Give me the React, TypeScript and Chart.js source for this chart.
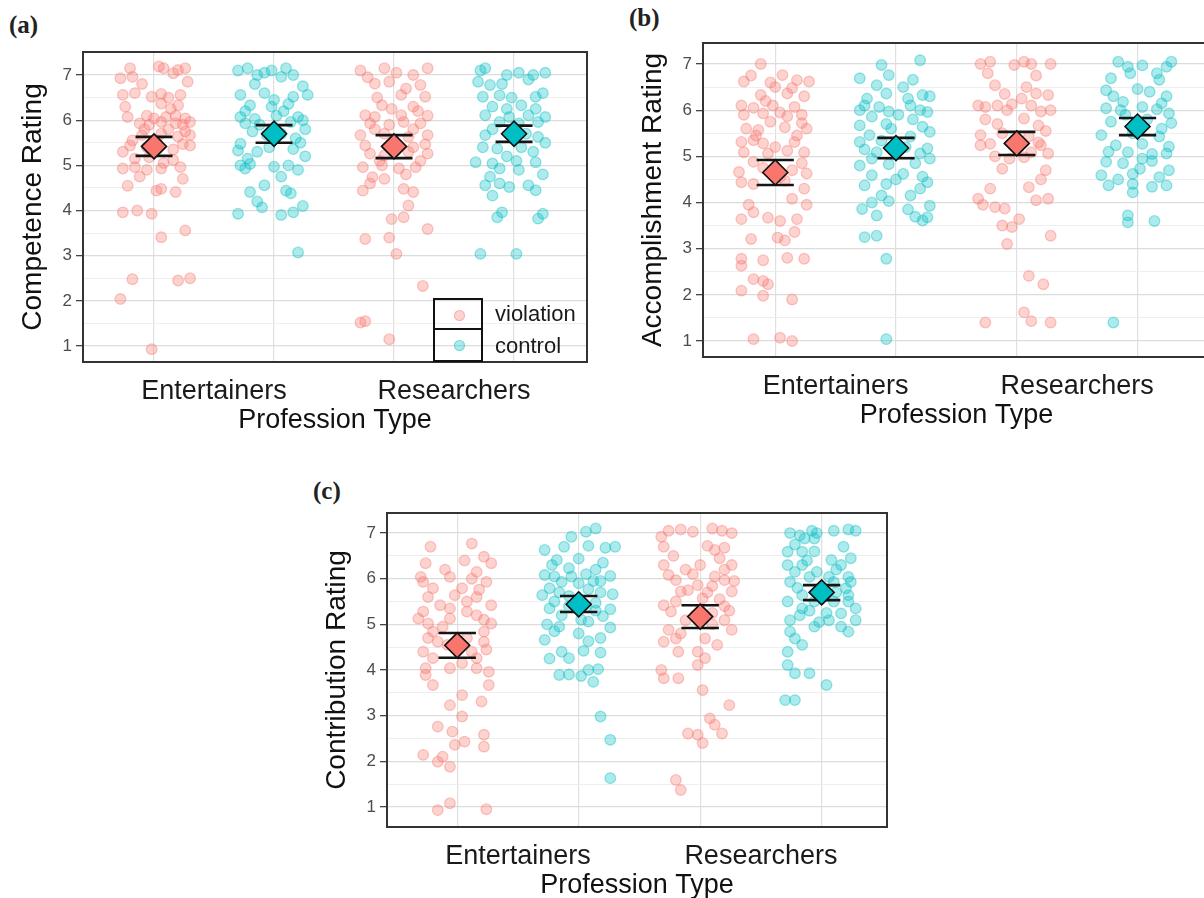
import React, { useEffect, useRef } from 'react';
import { Chart, registerables } from 'chart.js';

Chart.register(...registerables);
Chart.defaults.font.family = '"Liberation Sans", Arial, Helvetica, sans-serif';

// ---------- categories / legend ----------
const categories = ['Entertainers', 'Researchers'];
const conditions = ['violation', 'control'];
const conditionColors = ['#F8766D', '#00BFC4'];
const conditionPointFill = ['rgba(248,118,109,0.32)', 'rgba(0,191,196,0.32)'];
const conditionPointLine = ['rgba(248,118,109,0.40)', 'rgba(0,191,196,0.40)'];
const dodgeOffsets = [-0.25, 0.25];
const yTickValues = [1, 1.5, 2, 2.5, 3, 3.5, 4, 4.5, 5, 5.5, 6, 6.5, 7];
const xGridValues = [0.75, 1, 1.25, 1.75, 2, 2.25];
const capHalfWidth = 0.077;

// ---------- (a) Competence: [jitter, rating] ----------
const competenceEntViolation = [
  [-0.14, 6.93], [-0.10, 7.15], [-0.09, 6.96], [0.02, 7.19], [0.04, 7.15], [0.08, 7.04], [0.10, 7.11], [0.13, 7.15],
  [-0.13, 6.56], [-0.08, 6.6], [-0.01, 6.52], [0.03, 6.58], [0.06, 6.5], [0.11, 6.56],
  [0.03, 6.37], [0.10, 6.33],
  [-0.11, 6.07], [-0.03, 6.1], [0.0, 6.04], [0.05, 6.07], [0.09, 6.1], [0.13, 6.04],
  [-0.06, 5.93], [-0.02, 5.9], [0.03, 5.96], [0.09, 5.93], [0.12, 5.9], [0.15, 5.96],
  [-0.05, 5.67], [0.03, 5.7], [0.10, 5.64], [0.15, 5.67],
  [-0.10, 5.44], [-0.03, 5.4], [0.12, 5.47], [0.15, 5.44],
  [-0.08, 5.15], [-0.02, 5.18], [0.08, 5.12],
  [-0.13, 4.93], [-0.08, 4.96], [-0.03, 4.9], [0.03, 4.93], [0.11, 4.96],
  [0.01, 4.44], [0.03, 4.48], [0.09, 4.41],
  [-0.13, 3.96], [-0.07, 4.0], [-0.01, 3.93],
  [0.13, 3.56], [0.03, 3.41],
  [-0.09, 2.48], [0.10, 2.45], [0.15, 2.5],
  [-0.14, 2.04], [-0.01, 0.93],
  [-0.12, 6.3], [0.07, 6.25], [-0.04, 5.8], [0.06, 5.8], [0.13, 5.75], [-0.09, 5.55], [0.01, 5.55],
  [0.08, 5.35], [-0.13, 5.3], [0.04, 5.05], [-0.06, 4.75], [0.12, 4.7], [-0.11, 4.55], [0.14, 6.85], [-0.05, 6.8],
];
const competenceEntControl = [
  [-0.15, 7.1], [-0.11, 7.15], [-0.07, 7.0], [-0.01, 7.1], [0.03, 6.96], [0.08, 7.0], [0.05, 7.15], [-0.04, 7.05],
  [-0.14, 6.56], [-0.04, 6.6], [0.08, 6.52], [0.14, 6.56],
  [-0.10, 6.33], [-0.01, 6.3], [0.06, 6.36],
  [-0.14, 6.07], [-0.08, 6.03], [0.01, 6.1], [0.10, 6.07], [0.12, 6.0],
  [-0.12, 5.93], [-0.06, 5.9], [0.07, 5.96],
  [-0.03, 5.67], [0.03, 5.7],
  [-0.14, 5.48], [0.11, 5.5],
  [-0.15, 5.33], [-0.07, 5.3], [0.08, 5.36],
  [-0.14, 5.0], [-0.10, 5.03], [0.0, 4.97], [0.06, 5.0],
  [-0.12, 4.93], [0.10, 4.9],
  [-0.04, 4.56],
  [-0.10, 4.41], [0.05, 4.44], [0.07, 4.38],
  [-0.05, 4.07],
  [-0.15, 3.93], [0.03, 3.9], [0.08, 3.96],
  [0.10, 3.07],
  [-0.08, 6.8], [0.12, 6.75], [0.0, 6.45], [-0.12, 6.2], [0.04, 6.2], [0.13, 5.8], [-0.09, 5.75],
  [0.09, 5.6], [-0.02, 5.4], [0.13, 5.2], [-0.11, 5.15], [0.03, 4.75], [-0.07, 4.2], [0.12, 4.1],
];
const competenceResViolation = [
  [-0.14, 7.1], [-0.04, 7.15], [0.01, 7.05], [0.08, 7.0], [0.14, 7.15],
  [-0.08, 6.81], [-0.02, 6.85], [0.11, 6.78],
  [0.03, 6.56], [0.13, 6.52],
  [-0.05, 6.33], [0.08, 6.3],
  [-0.12, 6.11], [-0.08, 6.07], [0.03, 6.11], [0.14, 6.1],
  [-0.10, 5.93], [-0.02, 5.9], [0.04, 5.96], [0.11, 5.93],
  [-0.14, 5.67], [-0.04, 5.7], [0.06, 5.63], [0.14, 5.67],
  [-0.12, 5.44], [0.08, 5.4], [0.13, 5.47],
  [-0.10, 5.26], [-0.04, 5.22], [0.06, 5.3], [0.14, 5.26],
  [-0.13, 4.96], [-0.05, 5.0], [0.02, 4.93], [0.09, 4.96],
  [-0.09, 4.74], [-0.04, 4.7],
  [-0.13, 4.44], [0.04, 4.48], [0.08, 4.41],
  [0.06, 4.11],
  [-0.01, 3.81], [0.04, 3.85],
  [0.14, 3.59],
  [-0.12, 3.37], [-0.02, 3.4],
  [0.01, 3.04],
  [0.12, 2.33],
  [-0.14, 1.52], [-0.12, 1.55],
  [-0.02, 1.15],
  [-0.11, 6.95], [0.05, 6.7], [-0.07, 6.5], [0.10, 6.2], [-0.01, 6.25], [0.08, 5.8],
  [-0.08, 5.8], [0.0, 5.5], [-0.06, 5.1], [0.11, 5.1], [0.05, 4.8], [-0.10, 4.6],
];
const competenceResControl = [
  [-0.14, 7.1], [-0.12, 7.15], [-0.03, 7.0], [0.02, 7.05], [0.08, 7.0], [0.13, 7.05],
  [-0.10, 6.78], [-0.05, 6.8],
  [-0.13, 6.52], [-0.06, 6.55], [-0.01, 6.5], [0.09, 6.52],
  [-0.09, 6.3], [0.03, 6.33],
  [-0.12, 6.11], [-0.02, 6.07], [0.06, 6.11], [0.13, 6.07],
  [-0.06, 5.96], [0.02, 5.93], [0.10, 5.96],
  [-0.12, 5.67], [0.05, 5.7], [0.10, 5.63],
  [-0.07, 5.37], [0.03, 5.4],
  [-0.16, 5.07], [-0.09, 5.04], [0.01, 5.1], [0.09, 5.07],
  [-0.06, 4.93], [0.02, 4.9],
  [-0.12, 4.56], [-0.06, 4.6], [-0.02, 4.52], [0.06, 4.56],
  [-0.09, 4.33],
  [-0.05, 3.96], [0.12, 3.93],
  [-0.07, 3.85], [0.10, 3.82],
  [-0.14, 3.04], [0.01, 3.04],
  [0.06, 6.9], [-0.15, 6.85], [0.12, 6.6], [-0.03, 6.25], [0.09, 6.25], [-0.09, 5.8], [0.0, 5.8],
  [0.13, 5.5], [-0.13, 5.4], [0.08, 5.3], [-0.03, 5.2], [0.12, 4.8], [-0.10, 4.75], [0.09, 4.45],
];
const competenceMeans = [5.42, 5.7, 5.42, 5.7];
const competenceLower = [5.21, 5.5, 5.16, 5.52];
const competenceUpper = [5.63, 5.89, 5.67, 5.88];

// ---------- (b) Accomplishment ----------
const accomplishmentEntViolation = [
  [-0.06, 7.0], [0.03, 6.76],
  [-0.13, 6.62], [-0.02, 6.6], [0.09, 6.65], [0.14, 6.62],
  [0.0, 6.5], [0.07, 6.48],
  [-0.06, 6.33], [0.05, 6.36],
  [-0.14, 6.1], [-0.09, 6.05], [-0.01, 6.1], [0.08, 6.07],
  [-0.13, 5.9], [-0.05, 5.93], [0.05, 5.87], [0.11, 5.9],
  [-0.02, 5.75], [0.11, 5.72],
  [-0.12, 5.6], [-0.07, 5.57], [0.04, 5.63], [0.13, 5.6],
  [-0.14, 5.31], [-0.09, 5.35], [-0.05, 5.28], [0.08, 5.31],
  [-0.13, 5.09], [-0.03, 5.06], [0.05, 5.12], [0.12, 5.09],
  [-0.09, 4.88], [0.11, 4.85],
  [-0.15, 4.66], [0.07, 4.7], [0.13, 4.63],
  [-0.14, 4.44], [-0.09, 4.4], [0.04, 4.47],
  [0.07, 4.08],
  [-0.09, 3.79],
  [-0.14, 3.64], [-0.03, 3.67], [0.02, 3.6], [0.09, 3.64],
  [0.08, 3.36],
  [-0.10, 3.21], [0.01, 3.24], [0.04, 3.18],
  [-0.14, 2.78], [-0.05, 2.75], [0.05, 2.8], [0.12, 2.78],
  [-0.14, 2.63],
  [-0.09, 2.34], [-0.05, 2.3],
  [-0.03, 2.23],
  [-0.14, 2.09],
  [-0.05, 1.98],
  [0.07, 1.9],
  [-0.09, 1.04], [0.02, 1.07], [0.07, 1.0],
  [-0.10, 6.75], [0.12, 6.3], [-0.04, 6.2], [0.02, 5.95], [-0.08, 5.45], [0.09, 5.45],
  [0.0, 5.2], [-0.05, 4.75], [0.02, 4.55], [0.12, 4.3], [-0.11, 3.95], [0.13, 3.95],
];
const accomplishmentEntControl = [
  [0.10, 7.08], [-0.06, 6.98], [-0.03, 6.76],
  [-0.15, 6.69], [0.07, 6.66],
  [-0.08, 6.54], [0.03, 6.5],
  [-0.04, 6.36], [0.11, 6.33],
  [-0.13, 6.1], [-0.07, 6.07], [0.06, 6.1],
  [-0.15, 6.0], [-0.03, 5.97], [0.10, 6.0],
  [-0.10, 5.86], [0.01, 5.9],
  [-0.15, 5.67], [-0.04, 5.7], [0.11, 5.64],
  [-0.11, 5.46], [0.06, 5.43],
  [-0.15, 5.31], [-0.06, 5.34],
  [-0.08, 5.09], [0.10, 5.06],
  [-0.15, 4.8], [-0.03, 4.83],
  [-0.10, 4.59], [0.03, 4.62], [0.11, 4.56],
  [-0.13, 4.37], [-0.04, 4.4],
  [0.06, 4.15],
  [-0.10, 4.0], [-0.03, 4.03],
  [-0.14, 3.86],
  [-0.08, 3.72], [0.08, 3.69],
  [0.11, 3.61],
  [-0.13, 3.25], [-0.08, 3.28],
  [-0.04, 2.78],
  [-0.04, 1.04],
  [0.14, 6.3], [0.13, 5.96], [0.14, 5.53], [0.13, 5.17], [0.14, 4.95], [0.13, 4.44], [0.14, 3.93], [0.13, 3.68],
  [-0.12, 6.25], [0.05, 6.25], [-0.02, 5.6], [0.07, 5.8], [-0.13, 5.15], [0.04, 5.2],
  [-0.10, 4.95], [0.08, 4.85], [0.0, 4.5], [0.10, 4.3], [-0.06, 4.15], [0.05, 3.85],
];
const accomplishmentResViolation = [
  [-0.15, 7.0], [-0.11, 7.05], [-0.01, 6.98], [0.03, 7.05], [0.06, 7.0], [0.14, 7.0],
  [-0.09, 6.54], [0.04, 6.5],
  [0.08, 6.36], [0.13, 6.33],
  [-0.16, 6.1], [-0.13, 6.07], [-0.08, 6.1], [-0.02, 6.13], [0.06, 6.1],
  [-0.04, 6.0], [0.10, 5.97], [0.14, 6.0],
  [0.03, 5.82], [0.09, 5.67],
  [-0.15, 5.46], [-0.06, 5.5], [0.05, 5.43],
  [-0.15, 5.24], [-0.11, 5.27], [0.10, 5.24],
  [0.06, 5.09], [0.13, 5.06],
  [-0.03, 4.95], [0.03, 4.98],
  [-0.06, 4.73], [0.12, 4.7],
  [-0.11, 4.3], [0.05, 4.33],
  [-0.16, 4.08], [0.08, 4.05], [0.13, 4.08],
  [-0.09, 3.9], [-0.05, 3.87],
  [0.01, 3.64],
  [-0.06, 3.5], [-0.02, 3.47],
  [0.14, 3.28],
  [-0.04, 3.1],
  [0.05, 2.41],
  [0.11, 2.23],
  [0.03, 1.62],
  [-0.13, 1.4], [0.06, 1.43], [0.14, 1.4],
  [-0.12, 6.8], [0.08, 6.75], [-0.05, 6.35], [0.02, 6.25], [-0.13, 5.8], [-0.08, 5.7],
  [0.12, 5.55], [0.0, 5.35], [0.09, 5.3], [-0.09, 5.0], [0.10, 4.5], [-0.14, 3.95],
];
const accomplishmentResControl = [
  [-0.08, 7.05], [0.14, 7.05],
  [-0.04, 6.94], [0.02, 6.97], [0.12, 6.94],
  [-0.11, 6.69], [0.09, 6.66],
  [-0.13, 6.43], [0.0, 6.46], [0.05, 6.4],
  [-0.06, 6.18], [0.10, 6.15],
  [-0.13, 6.04], [0.02, 6.07], [0.08, 6.02],
  [-0.05, 5.9], [0.13, 5.93],
  [-0.11, 5.75], [0.14, 5.72],
  [-0.15, 5.46], [-0.02, 5.5], [0.09, 5.43],
  [-0.09, 5.24], [0.02, 5.27], [0.13, 5.21],
  [-0.04, 5.09], [0.12, 5.06],
  [-0.13, 4.88], [-0.06, 4.85], [0.06, 4.9],
  [0.01, 4.73], [0.13, 4.7],
  [-0.15, 4.59], [-0.02, 4.62],
  [-0.12, 4.37], [-0.02, 4.4], [0.06, 4.34], [0.12, 4.37],
  [-0.02, 4.22],
  [-0.04, 3.72],
  [-0.04, 3.57], [0.07, 3.6],
  [-0.10, 1.4],
  [-0.03, 6.8], [0.08, 6.8], [-0.10, 6.3], [0.12, 6.3], [-0.07, 6.0], [0.04, 5.8], [-0.02, 5.6],
  [0.10, 5.6], [-0.12, 5.1], [0.06, 5.05], [-0.08, 4.5], [0.09, 4.55], [0.02, 4.95],
];
const accomplishmentMeans = [4.65, 5.18, 5.28, 5.645];
const accomplishmentLower = [4.38, 4.96, 5.03, 5.46];
const accomplishmentUpper = [4.92, 5.4, 5.53, 5.83];

// ---------- (c) Contribution ----------
const contributionEntViolation = [
  [0.06, 6.77], [-0.11, 6.7], [0.11, 6.48], [-0.13, 6.34], [0.14, 6.34], [0.08, 6.15],
  [-0.15, 6.04], [-0.03, 6.04], [0.06, 6.0],
  [-0.14, 5.93], [0.12, 5.93],
  [-0.10, 5.79], [0.02, 5.79], [0.09, 5.76],
  [-0.01, 5.64], [0.08, 5.6],
  [-0.07, 5.42], [0.14, 5.42],
  [-0.14, 5.28], [0.04, 5.28],
  [-0.16, 5.13], [-0.03, 5.13], [0.11, 5.1],
  [-0.12, 5.02], [0.14, 5.02],
  [-0.10, 4.84], [0.11, 4.84],
  [-0.08, 4.62], [0.11, 4.62],
  [-0.14, 4.4], [0.06, 4.4],
  [-0.10, 4.26], [0.08, 4.26],
  [-0.13, 4.04], [-0.03, 4.04], [0.08, 4.04],
  [0.13, 3.96], [-0.13, 3.89],
  [-0.10, 3.67], [0.13, 3.67],
  [0.02, 3.45], [0.10, 3.31], [-0.03, 3.23],
  [0.02, 2.98], [-0.08, 2.76], [-0.02, 2.65], [0.11, 2.58],
  [0.03, 2.43], [-0.01, 2.36], [0.11, 2.32],
  [-0.14, 2.14], [-0.06, 2.1], [-0.08, 1.99], [-0.03, 1.88],
  [-0.03, 1.08], [-0.08, 0.93], [0.12, 0.95],
  [-0.05, 6.2], [0.03, 6.4], [-0.12, 5.6], [0.04, 5.5], [-0.03, 5.35], [0.08, 5.2],
  [-0.06, 4.95], [0.04, 4.7], [-0.12, 4.7], [0.12, 4.45], [-0.04, 4.55], [0.02, 4.15],
];
const contributionEntControl = [
  [0.07, 7.1], [0.03, 7.03], [-0.03, 6.92],
  [-0.06, 6.7], [0.04, 6.72], [0.11, 6.68], [0.15, 6.7], [-0.14, 6.63],
  [-0.09, 6.41], [0.0, 6.44],
  [-0.04, 6.23], [0.07, 6.2],
  [-0.14, 6.08], [-0.10, 6.05], [0.03, 6.1], [0.13, 6.06],
  [-0.07, 5.93], [0.0, 5.9], [0.09, 5.95],
  [-0.12, 5.79], [0.04, 5.77],
  [-0.15, 5.64], [-0.04, 5.62], [0.14, 5.66],
  [-0.10, 5.5], [0.07, 5.47],
  [-0.12, 5.35], [0.03, 5.38], [0.13, 5.33],
  [-0.07, 5.2], [0.10, 5.18],
  [0.04, 5.06],
  [-0.08, 4.95], [0.13, 4.93],
  [0.0, 4.8],
  [-0.14, 4.66], [0.04, 4.63],
  [-0.07, 4.4], [0.02, 4.42], [0.09, 4.38],
  [-0.04, 4.26],
  [0.04, 4.0], [0.08, 4.02],
  [-0.08, 3.89], [-0.04, 3.9], [0.01, 3.87],
  [0.06, 3.74],
  [0.09, 2.98], [0.13, 2.47], [0.13, 1.63],
  [-0.11, 6.3], [0.10, 6.35], [-0.03, 6.05], [0.06, 5.95], [-0.08, 5.7], [0.09, 5.7], [-0.04, 5.4],
  [0.07, 5.3], [-0.13, 5.0], [0.01, 5.1], [-0.10, 4.85], [0.09, 4.7], [-0.12, 4.25],
];
const contributionResViolation = [
  [-0.13, 7.05], [-0.08, 7.08], [-0.03, 7.03], [0.05, 7.1], [0.09, 7.05], [0.13, 7.0],
  [-0.16, 6.92],
  [-0.15, 6.7], [0.03, 6.72], [0.10, 6.68], [0.06, 6.63],
  [-0.15, 6.3], [0.0, 6.3], [0.13, 6.3],
  [-0.13, 6.08], [-0.03, 6.1], [0.06, 6.05],
  [-0.10, 5.97], [0.10, 5.97], [0.14, 5.95],
  [-0.01, 5.86], [0.05, 5.84],
  [-0.08, 5.72], [0.13, 5.72],
  [0.01, 5.57], [0.08, 5.55],
  [-0.15, 5.42], [0.10, 5.4],
  [-0.12, 5.28], [0.05, 5.25],
  [-0.06, 5.09], [0.10, 5.09],
  [-0.13, 4.88], [0.13, 4.88],
  [-0.10, 4.69], [0.02, 4.69], [-0.15, 4.62],
  [-0.09, 4.4], [-0.01, 4.4],
  [0.02, 4.26], [-0.01, 4.11], [-0.16, 4.0],
  [-0.15, 3.82], [-0.09, 3.82],
  [0.01, 3.56], [0.12, 3.23], [0.04, 2.94], [0.06, 2.8],
  [-0.05, 2.61], [-0.01, 2.58], [0.09, 2.61],
  [0.01, 2.4],
  [-0.10, 1.59], [-0.08, 1.37],
  [-0.11, 6.5], [0.08, 6.45], [-0.06, 6.2], [0.10, 6.2], [-0.05, 5.75], [0.03, 5.7],
  [-0.10, 5.5], [0.12, 5.3], [-0.02, 5.2], [0.05, 5.0], [-0.08, 4.8], [0.07, 4.55],
];
const contributionResControl = [
  [-0.13, 7.0], [-0.09, 6.95], [-0.04, 7.05], [-0.02, 7.0], [0.05, 7.05], [0.11, 7.08], [0.14, 7.05],
  [-0.07, 6.88], [-0.03, 6.88],
  [-0.14, 6.59], [-0.08, 6.59],
  [0.04, 6.41],
  [-0.14, 6.3], [-0.08, 6.3], [0.08, 6.3],
  [-0.11, 6.15], [-0.02, 6.15],
  [-0.05, 6.04], [0.03, 6.04], [0.11, 6.04],
  [-0.13, 5.93], [0.05, 5.93], [0.12, 5.93],
  [0.0, 5.79], [0.10, 5.79],
  [-0.08, 5.64], [0.11, 5.64],
  [-0.14, 5.5], [-0.03, 5.5], [0.05, 5.5],
  [-0.08, 5.35], [0.14, 5.35],
  [0.08, 5.24],
  [-0.13, 5.09], [0.03, 5.09], [0.14, 5.09],
  [-0.03, 4.95], [0.08, 4.95],
  [-0.13, 4.84], [0.11, 4.84],
  [-0.11, 4.69], [-0.08, 4.55], [-0.14, 4.4],
  [-0.14, 4.11], [-0.11, 3.93], [-0.05, 3.93],
  [0.02, 3.67], [-0.15, 3.34], [-0.11, 3.34],
  [-0.11, 6.75], [0.09, 6.7], [-0.03, 6.6], [0.12, 6.45], [-0.06, 6.4], [0.06, 6.2], [-0.10, 5.8],
  [0.06, 5.7], [-0.05, 5.3], [0.11, 5.5], [-0.09, 5.2], [0.02, 5.25], [-0.01, 5.05],
];
const contributionMeans = [4.54, 5.44, 5.17, 5.7];
const contributionLower = [4.27, 5.27, 4.92, 5.53];
const contributionUpper = [4.81, 5.62, 5.42, 5.86];

// ---------- layout ----------
const Y_AXIS_W = 76;
const X_AXIS_H = 79;
const PAD_TOP = 16;
const PAD_RIGHT = 16;

const panels = [
  {
    id: 'a', letter: '(a)', letterPos: { left: 9, top: 12 }, yTitle: 'Competence Rating',
    groups: [competenceEntViolation, competenceEntControl, competenceResViolation, competenceResControl],
    means: competenceMeans, lower: competenceLower, upper: competenceUpper,
    frame: { left: 83, top: 52, right: 587, bottom: 362 },
    xRange: [0.454, 2.554], yRange: [0.646, 7.51],
  },
  {
    id: 'b', letter: '(b)', letterPos: { left: 629, top: 5 }, yTitle: 'Accomplishment Rating',
    groups: [accomplishmentEntViolation, accomplishmentEntControl, accomplishmentResViolation, accomplishmentResControl],
    means: accomplishmentMeans, lower: accomplishmentLower, upper: accomplishmentUpper,
    frame: { left: 703, top: 43, right: 1210, bottom: 357 },
    xRange: [0.451, 2.55], yRange: [0.653, 7.455],
  },
  {
    id: 'c', letter: '(c)', letterPos: { left: 313, top: 478 }, yTitle: 'Contribution Rating',
    groups: [contributionEntViolation, contributionEntControl, contributionResViolation, contributionResControl],
    means: contributionMeans, lower: contributionLower, upper: contributionUpper,
    frame: { left: 387, top: 513, right: 887, bottom: 827 },
    xRange: [0.461, 2.519], yRange: [0.56, 7.44],
  },
];

const groupX = (g) => Math.floor(g / 2) + 1 + dodgeOffsets[g % 2];

const framePlugin = {
  id: 'panelFrame',
  afterDatasetsDraw(chart) {
    const { ctx, chartArea: a } = chart;
    ctx.save();
    ctx.strokeStyle = '#333333';
    ctx.lineWidth = 2;
    ctx.strokeRect(a.left, a.top, a.right - a.left, a.bottom - a.top);
    ctx.restore();
  },
};

function PanelChart({ panel }) {
  const ref = useRef(null);
  const f = panel.frame;
  const left = f.left - Y_AXIS_W;
  const top = f.top - PAD_TOP;
  const width = f.right + PAD_RIGHT - left;
  const height = f.bottom + X_AXIS_H - top;

  useEffect(() => {
    const datasets = [];
    datasets.push({
      label: 'mean',
      data: panel.means.map((m, g) => ({ x: groupX(g), y: m })),
      pointStyle: 'rectRot',
      pointRadius: 12.5,
      pointHoverRadius: 12.5,
      pointBackgroundColor: panel.means.map((_, g) => conditionColors[g % 2]),
      pointBorderColor: '#111111',
      pointBorderWidth: 1.6,
      showLine: false,
      order: 0,
    });
    panel.means.forEach((_, g) => {
      const cx = groupX(g);
      const lo = panel.lower[g];
      const hi = panel.upper[g];
      const segs = [
        [{ x: cx, y: lo }, { x: cx, y: hi }],
        [{ x: cx - capHalfWidth, y: hi }, { x: cx + capHalfWidth, y: hi }],
        [{ x: cx - capHalfWidth, y: lo }, { x: cx + capHalfWidth, y: lo }],
      ];
      segs.forEach((seg) => {
        datasets.push({
          label: 'ci',
          data: seg,
          showLine: true,
          borderColor: '#151515',
          borderWidth: 2.6,
          pointRadius: 0,
          pointHoverRadius: 0,
          order: 1,
        });
      });
    });
    panel.groups.forEach((pairs, g) => {
      const cx = groupX(g);
      datasets.push({
        label: conditions[g % 2] + ' ' + categories[Math.floor(g / 2)],
        data: pairs.map(([j, v]) => ({ x: cx + j, y: v })),
        pointRadius: 5.3,
        pointHoverRadius: 5.3,
        pointBackgroundColor: conditionPointFill[g % 2],
        pointBorderColor: conditionPointLine[g % 2],
        pointBorderWidth: 1.3,
        showLine: false,
        order: 2,
      });
    });

    const chart = new Chart(ref.current, {
      type: 'scatter',
      data: { datasets },
      plugins: [framePlugin],
      options: {
        animation: false,
        responsive: false,
        events: [],
        layout: { padding: { top: PAD_TOP, right: PAD_RIGHT, left: 0, bottom: 0 } },
        plugins: { legend: { display: false }, tooltip: { enabled: false } },
        scales: {
          x: {
            type: 'linear',
            min: panel.xRange[0],
            max: panel.xRange[1],
            afterBuildTicks: (s) => { s.ticks = xGridValues.map((v) => ({ value: v })); },
            afterFit: (s) => { s.height = X_AXIS_H; },
            grid: {
              color: (ctx) => (ctx.tick && Number.isInteger(ctx.tick.value) ? 'rgba(0,0,0,0)' : '#E0E0E0'),
              lineWidth: 1.2,
              drawTicks: false,
            },
            border: { display: false },
            ticks: {
              autoSkip: false,
              maxRotation: 0,
              padding: 13,
              color: '#1A1A1A',
              font: { size: 27 },
              callback: (v) => (Number.isInteger(v) ? categories[v - 1] : ''),
            },
            title: {
              display: true,
              text: 'Profession Type',
              color: '#111111',
              font: { size: 27 },
              padding: { top: 0, bottom: 4 },
            },
          },
          y: {
            type: 'linear',
            min: panel.yRange[0],
            max: panel.yRange[1],
            afterBuildTicks: (s) => { s.ticks = yTickValues.map((v) => ({ value: v })); },
            afterFit: (s) => { s.width = Y_AXIS_W; },
            grid: {
              color: (ctx) => (ctx.tick && Number.isInteger(ctx.tick.value) ? '#DCDCDC' : '#EAEAEA'),
              lineWidth: (ctx) => (ctx.tick && Number.isInteger(ctx.tick.value) ? 1.3 : 0.8),
              drawTicks: true,
              tickLength: 7,
              tickWidth: 1.3,
              tickColor: (ctx) => (ctx.tick && Number.isInteger(ctx.tick.value) ? '#444444' : 'rgba(0,0,0,0)'),
            },
            border: { display: false },
            ticks: {
              autoSkip: false,
              padding: 4,
              color: '#4D4D4D',
              font: { size: 17 },
              callback: (v) => (Number.isInteger(v) ? String(v) : ''),
            },
            title: {
              display: true,
              text: panel.yTitle,
              color: '#111111',
              font: { size: 28 },
              padding: { top: 9.2, bottom: 0 },
            },
          },
        },
      },
    });
    return () => chart.destroy();
  }, []);

  return (
    <canvas
      ref={ref}
      width={width}
      height={height}
      style={{ position: 'absolute', left, top, width, height, display: 'block' }}
    />
  );
}

function Legend() {
  const cell = { position: 'absolute', left: 0, width: 50, height: 32, boxSizing: 'border-box', border: '2px solid #111' };
  const dot = (i) => ({
    position: 'absolute', left: 19, top: 10, width: 11, height: 11, borderRadius: '50%',
    background: conditionPointFill[i], border: '1px solid ' + conditionPointLine[i], boxSizing: 'border-box',
  });
  const text = { position: 'absolute', left: 62, fontSize: 22, lineHeight: '32px', color: '#1A1A1A', whiteSpace: 'nowrap' };
  return (
    <div style={{ position: 'absolute', left: 433, top: 298, width: 150, height: 64, fontFamily: '"Liberation Sans", Arial, sans-serif' }}>
      {conditions.map((c, i) => (
        <React.Fragment key={c}>
          <div style={{ ...cell, top: i * 32, borderTopWidth: i === 1 ? 0 : 2 }}>
            <div style={dot(i)} />
          </div>
          <div style={{ ...text, top: i * 32 }}>{c}</div>
        </React.Fragment>
      ))}
    </div>
  );
}

export default function App() {
  return (
    <div style={{ position: 'absolute', left: 0, top: 0, width: 1204, height: 898, overflow: 'hidden', background: '#FFFFFF' }}>
      {panels.map((p) => (
        <React.Fragment key={p.id}>
          <div
            style={{
              position: 'absolute', left: p.letterPos.left, top: p.letterPos.top,
              fontFamily: '"Liberation Serif", "Times New Roman", serif', fontWeight: 'bold',
              fontSize: 25, lineHeight: '25px', color: '#222',
            }}
          >
            {p.letter}
          </div>
          <PanelChart panel={p} />
        </React.Fragment>
      ))}
      <Legend />
    </div>
  );
}
